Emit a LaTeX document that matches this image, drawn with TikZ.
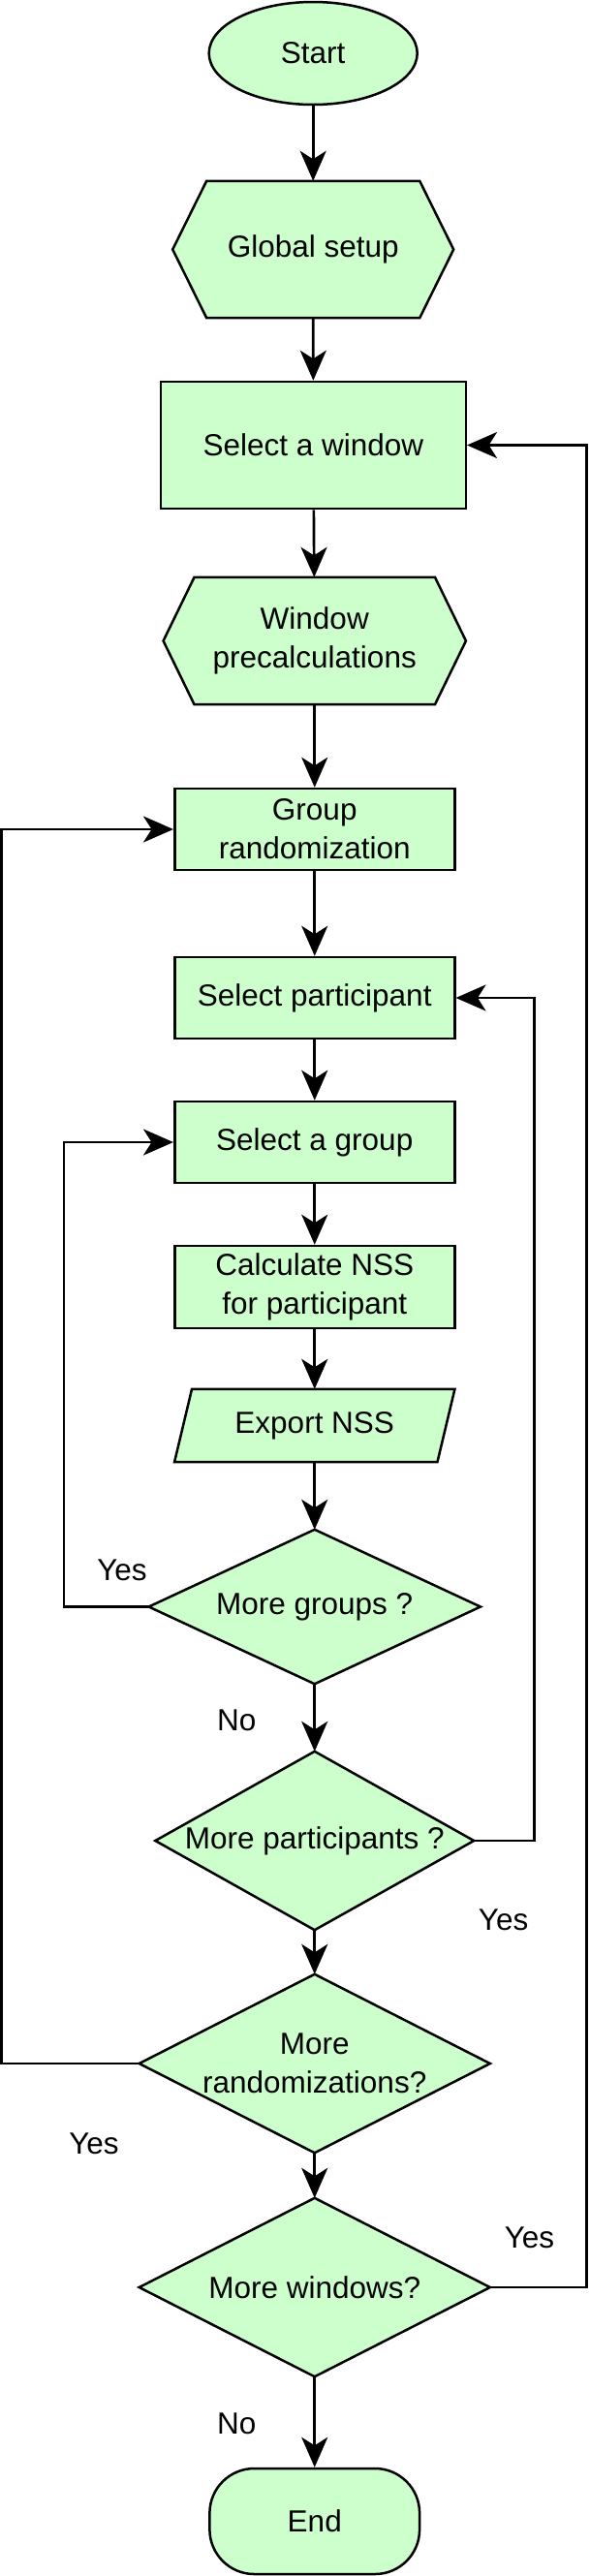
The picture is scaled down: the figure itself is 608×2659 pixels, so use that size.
\documentclass[tikz,border=0pt]{standalone}
\usepackage{fontspec}
\setmainfont{Liberation Sans}
\usetikzlibrary{arrows.meta,shapes.geometric,backgrounds}
\definecolor{boxfill}{HTML}{CCFFCC}
\tikzset{
  base/.style={inner sep=0pt, font=\fontsize{31.5}{40}\selectfont, align=center},
  boxshape/.style={base, rectangle, draw, fill=boxfill, line width=2.5pt},
  frame/.style={base, rectangle},
  outline/.style={draw, fill=boxfill, line width=2.5pt, line join=miter},
  conn/.style={line width=2.7pt, -{Stealth[length=31pt,width=27pt,inset=8.5pt]}},
  lbl/.style={base}
}
\begin{document}
\begin{tikzpicture}[x=1pt,y=-1pt]
\useasboundingbox (0,0) rectangle (608,2659);

% nodes
\node[base, ellipse, draw, fill=boxfill, line width=2.5pt, minimum width=215pt, minimum height=106pt] (start) at (323.2,55) {Start};
\node[frame, minimum width=289.6pt, minimum height=141pt] (gs) at (323.2,257.5) {Global setup};
\node[boxshape, minimum width=314.8pt, minimum height=131pt] (sw) at (323.4,459.5) {Select a window};
\node[frame, minimum width=312pt, minimum height=131pt] (wp) at (324.75,661.5) {Window\\precalculations};
\node[boxshape, minimum width=289pt, minimum height=84pt] (gr) at (324.75,856) {Group\\randomization};
\node[boxshape, minimum width=289pt, minimum height=84pt] (sp) at (324.75,1030) {Select participant};
\node[boxshape, minimum width=289pt, minimum height=84pt] (sg) at (324.75,1179) {Select a group};
\node[boxshape, minimum width=289pt, minimum height=85pt] (cn) at (324.75,1328.5) {Calculate NSS\\for participant};
\node[frame, minimum width=289pt, minimum height=75pt] (ex) at (324.75,1471.5) {Export NSS};
\node[frame, minimum width=342pt, minimum height=159pt] (mg) at (324.75,1658.5) {More groups ?};
\node[frame, minimum width=328.5pt, minimum height=184pt] (mp) at (324.75,1900) {More participants ?};
\node[frame, minimum width=361.8pt, minimum height=184pt] (mr) at (324.75,2130) {More\\randomizations?};
\node[frame, minimum width=361.8pt, minimum height=184pt] (mw) at (324.75,2361) {More windows?};
\node[base, rectangle, rounded corners=46pt, draw, fill=boxfill, line width=2.5pt, minimum width=216.7pt, minimum height=109pt] (end) at (324.75,2602.5) {End};

% drawn outlines behind text
\begin{scope}[on background layer]
\draw[outline] ([xshift=35pt]gs.north west) -- ([xshift=-35pt]gs.north east) -- (gs.east) -- ([xshift=-35pt]gs.south east) -- ([xshift=35pt]gs.south west) -- (gs.west) -- cycle;
\draw[outline] ([xshift=32pt]wp.north west) -- ([xshift=-32pt]wp.north east) -- (wp.east) -- ([xshift=-32pt]wp.south east) -- ([xshift=32pt]wp.south west) -- (wp.west) -- cycle;
\draw[outline] ([xshift=18pt]ex.north west) -- (ex.north east) -- ([xshift=-18pt]ex.south east) -- (ex.south west) -- cycle;
\draw[outline] (mg.north) -- (mg.east) -- (mg.south) -- (mg.west) -- cycle;
\draw[outline] (mp.north) -- (mp.east) -- (mp.south) -- (mp.west) -- cycle;
\draw[outline] (mr.north) -- (mr.east) -- (mr.south) -- (mr.west) -- cycle;
\draw[outline] (mw.north) -- (mw.east) -- (mw.south) -- (mw.west) -- cycle;
\end{scope}

% main flow
\draw[conn] (start) -- (gs);
\draw[conn] (gs) -- (sw);
\draw[conn] (sw) -- (wp);
\draw[conn] (wp) -- (gr);
\draw[conn] (gr) -- (sp);
\draw[conn] (sp) -- (sg);
\draw[conn] (sg) -- (cn);
\draw[conn] (cn) -- (ex);
\draw[conn] (ex.south) -- (mg.north);
\draw[conn] (mg.south) -- (mp.north);
\draw[conn] (mp.south) -- (mr.north);
\draw[conn] (mr.south) -- (mw.north);
\draw[conn] (mw.south) -- (end);

% loops
\draw[conn] (mg.west) -- ++(-87.6,0) |- (sg.west);
\draw[conn] (mp.east) -- ++(62,0) |- (sp.east);
\draw[conn] (mr.west) -- ++(-142,0) |- (gr.west);
\draw[conn] (mw.east) -- ++(99.7,0) |- (sw.east);

% labels
\node[lbl] (y1) at (126,1621) {Yes};
\node[lbl] (n1) at (244.3,1776) {No};
\node[lbl] (y2) at (519.6,1982) {Yes};
\node[lbl] (y3) at (97,2213) {Yes};
\node[lbl] (y4) at (546.5,2310) {Yes};
\node[lbl] (n2) at (244.3,2502) {No};
\end{tikzpicture}
\end{document}
